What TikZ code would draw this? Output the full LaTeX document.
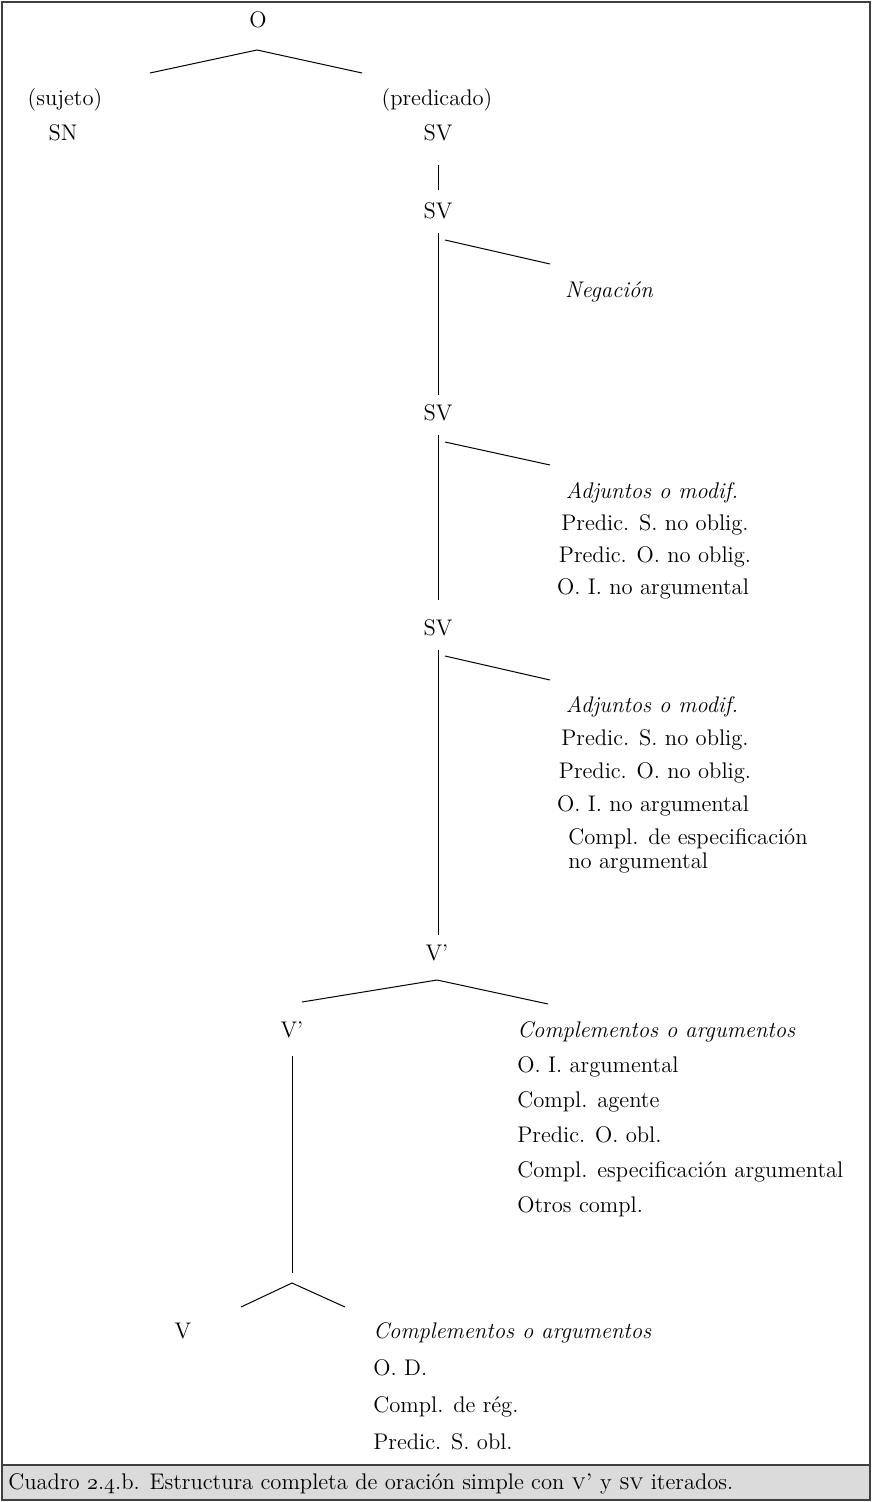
\documentclass[tikz,border=0pt]{standalone}
\usepackage{fontspec}
% old-style figures for the table number
\newcommand{\osn}[1]{{\usefont{OML}{cmm}{m}{it}#1}}
\begin{document}
\begin{tikzpicture}[x=0.5pt,y=-0.5pt,
  lbl/.style={inner sep=0pt, font=\fontsize{11.3}{13}\selectfont, text height=7.6pt, text depth=2.4pt},
  lft/.style={lbl, anchor=west},
  itl/.style={font=\fontsize{11.3}{13}\selectfont\itshape},
  edge/.style={line width=0.5pt},
  framebox/.style={line width=0.8pt, draw=black!75},
]
% page and frame
\fill[white] (0,0) rectangle (872,1502);
\useasboundingbox (0,0) rectangle (872,1502);
\filldraw[framebox, fill=black!14] (2,1465) rectangle (870,1500);
\draw[framebox] (2,2) rectangle (870,1500);
\node[lft] (cap) at (8,1484) {Cuadro \osn{2}.\osn{4}.b. Estructura completa de oración simple con \textsc{v’} y \textsc{sv} iterados.};

% O -> SN, SV
\node[lbl] (O) at (258,22) {O};
\coordinate (Oa) at (257,50);
\coordinate (Ol) at (150,73);
\coordinate (Or) at (362,73);
\draw[edge] (Ol) -- (Oa) -- (Or);
\node[lbl] (suj) at (65,100) {(sujeto)};
\node[lbl] (SN) at (63,135) {SN};
\node[lbl] (pred) at (437,100) {(predicado)};
\node[lbl] (SV1) at (438,135) {SV};

% SV -> SV
\node[lbl] (SV2) at (438,213) {SV};
\draw[edge, shorten <=10pt, shorten >=6.5pt] (SV1.south) -- (SV2.north);

% SV with negation
\node[lbl] (SV3) at (438,415) {SV};
\draw[edge, shorten <=5pt, shorten >=5pt] (SV2.south) -- (SV3.north);
\coordinate (n1) at (445,240);
\coordinate (n2) at (550,264);
\draw[edge] (n1) -- (n2);
\node[lbl, itl] (neg) at (609,292) {Negación};

% SV with adjuncts
\node[lbl] (SV4) at (438,630) {SV};
\draw[edge, shorten <=5pt, shorten >=10pt] (SV3.south) -- (SV4.north);
\coordinate (a1) at (445,442);
\coordinate (a2) at (550,465);
\draw[edge] (a1) -- (a2);
\node[lbl, itl] (adj1) at (652,493) {Adjuntos o modif.};
\node[lbl] (adj1a) at (655,525) {Predic. S. no oblig.};
\node[lbl] (adj1b) at (655,557) {Predic. O. no oblig.};
\node[lbl] (adj1c) at (653,589) {O. I. no argumental};

% SV -> V'
\node[lbl] (Vb1) at (437,955) {V’};
\draw[edge, shorten <=5pt, shorten >=5pt] (SV4.south) -- (SV4.south |- Vb1.north);
\coordinate (b1) at (445,656);
\coordinate (b2) at (550,680);
\draw[edge] (b1) -- (b2);
\node[lbl, itl] (adj2) at (652,707) {Adjuntos o modif.};
\node[lbl] (adj2a) at (655,740) {Predic. S. no oblig.};
\node[lbl] (adj2b) at (655,773) {Predic. O. no oblig.};
\node[lbl] (adj2c) at (653,806) {O. I. no argumental};
\node[lft] (adj2d) at (568,839) {Compl. de especificación};
\node[lft] (adj2e) at (568,863) {no argumental};

% V' -> V' + complements
\coordinate (c0) at (437,980);
\coordinate (cl) at (302,1002);
\coordinate (cr) at (548,1004);
\draw[edge] (cl) -- (c0) -- (cr);
\node[lbl] (Vb2) at (292,1032) {V’};
\node[lft, itl] (cmp1) at (517,1032) {Complementos o argumentos};
\node[lft] (cmp1a) at (517,1067) {O. I. argumental};
\node[lft] (cmp1b) at (517,1102) {Compl. agente};
\node[lft] (cmp1c) at (517,1137) {Predic. O. obl.};
\node[lft] (cmp1d) at (517,1172) {Compl. especificación argumental};
\node[lft] (cmp1e) at (517,1207) {Otros compl.};

% V' -> V + complements
\coordinate (d0) at (292,1283);
\coordinate (dl) at (241,1307);
\coordinate (dr) at (345,1307);
\draw[edge, shorten <=7pt, shorten >=5pt] (Vb2.south) -- (d0);
\draw[edge] (dl) -- (d0) -- (dr);
\node[lbl] (V) at (183,1333) {V};
\node[lft, itl] (cmp2) at (373,1333) {Complementos o argumentos};
\node[lft] (cmp2a) at (373,1370) {O. D.};
\node[lft] (cmp2b) at (373,1407) {Compl. de rég.};
\node[lft] (cmp2c) at (373,1444) {Predic. S. obl.};
\end{tikzpicture}
\end{document}
